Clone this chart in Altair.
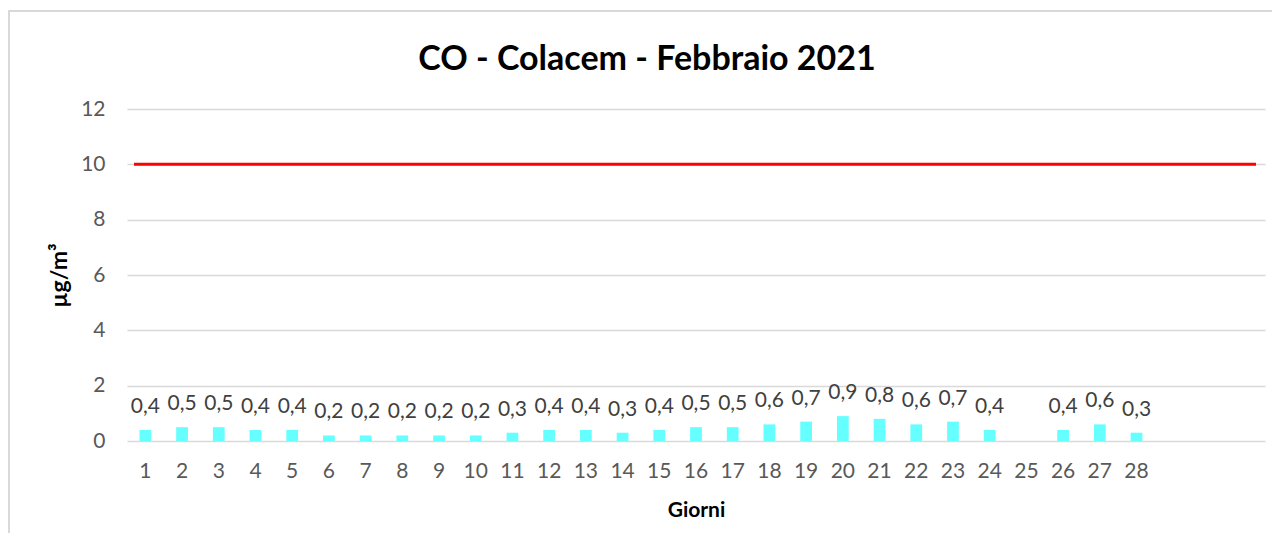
import altair as alt
import pandas as pd

title_text = ["CO - Colacem - Febbraio 2021"]
days = [str(d) for d in range(1, 32)]
values = [0.4, 0.5, 0.5, 0.4, 0.4, 0.2, 0.2, 0.2, 0.2, 0.2, 0.3, 0.4, 0.4, 0.3,
          0.4, 0.5, 0.5, 0.6, 0.7, 0.9, 0.8, 0.6, 0.7, 0.4, None, 0.4, 0.6, 0.3]
limit_value = 10
y_ticks = [0, 2, 4, 6, 8, 10, 12]

rows = []
for i, v in enumerate(values):
    rows.append({
        "giorno": days[i],
        "valore": v,
        "etichetta": ("" if v is None else f"{v:.1f}".replace(".", ",")),
    })
df = pd.DataFrame(rows)
df = df[df["valore"].notna()]
limit_df = pd.DataFrame({"limite": [limit_value]})
title_df = pd.DataFrame({"titolo": title_text})

FONT = "Lato"
W, H = 1138, 332
PAD = {"left": 119, "top": 101, "right": 11, "bottom": 98}

x_enc = alt.X(
    "giorno:N",
    sort=days,
    scale=alt.Scale(domain=days, paddingInner=0.68, paddingOuter=0.34),
    axis=alt.Axis(
        title="Giorni",
        labelAngle=0,
        labelExpr="toNumber(datum.value) > 28 ? '' : datum.label",
        ticks=False,
        domain=False,
        grid=False,
        labelPadding=19,
        labelFontSize=21,
        labelColor="#595959",
        labelFont=FONT,
        titleFont=FONT,
        titleFontSize=21,
        titleFontWeight="bold",
        titleColor="#000000",
        titlePadding=18,
    ),
)
y_scale = alt.Scale(domain=[0, 12])
y_enc = alt.Y(
    "valore:Q",
    scale=y_scale,
    axis=alt.Axis(
        title="µg/m³",
        values=y_ticks,
        ticks=False,
        domain=False,
        grid=True,
        gridColor="#d9d9d9",
        gridWidth=1.5,
        labelPadding=22,
        labelFontSize=21,
        labelColor="#595959",
        labelFont=FONT,
        titleFont=FONT,
        titleFontSize=23,
        titleFontWeight="bold",
        titleColor="#000000",
        titleX=-56,
        titleY=166,
    ),
)

# chart-area frame (decoration): left and top edges, kept well inside the canvas
frame_left = alt.Chart(limit_df).mark_rule(color="#d9d9d9", strokeWidth=2).encode(
    x=alt.value(-118), y=alt.value(-99), y2=alt.value(H + PAD["bottom"] - 6)
)
frame_top = alt.Chart(limit_df).mark_rule(color="#d9d9d9", strokeWidth=2).encode(
    x=alt.value(-119), x2=alt.value(W + PAD["right"] - 4), y=alt.value(-98)
)

title = alt.Chart(title_df).mark_text(
    font=FONT, fontSize=34, fontWeight="bold", color="#000000",
    align="center", baseline="alphabetic",
).encode(text="titolo:N", x=alt.value(W / 2 - 49), y=alt.value(-39))

bars = alt.Chart(df).mark_bar(color="#66ffff").encode(x=x_enc, y=y_enc)

labels = alt.Chart(df).mark_text(
    baseline="middle", dy=-23, fontSize=21, color="#404040", font=FONT
).encode(x=alt.X("giorno:N", sort=days), y=alt.Y("valore:Q"), text="etichetta:N")

limit = alt.Chart(limit_df).mark_rule(color="#ff0000", strokeWidth=3).encode(
    y=alt.Y("limite:Q"), x=alt.value(7), x2=alt.value(W - 9)
)

chart = alt.layer(frame_left, frame_top, title, bars, labels, limit).properties(
    width=W,
    height=H,
    autosize=alt.AutoSizeParams(type="none"),
    padding=PAD,
).configure(background="white").configure_view(stroke=None, strokeWidth=0)

chart.save("out.html", embed_options={"renderer": "svg", "actions": False})
